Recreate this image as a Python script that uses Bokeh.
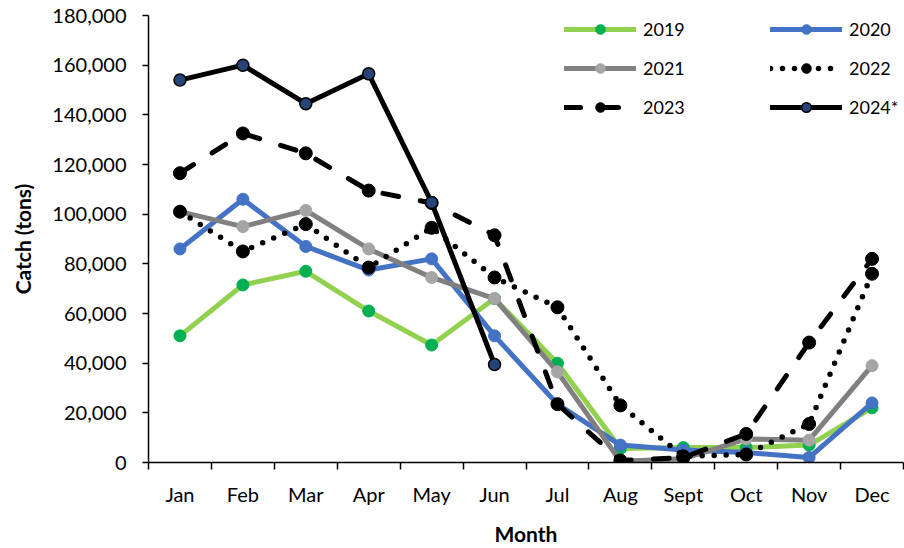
from bokeh.plotting import figure
from bokeh.models import (Range1d, FixedTicker, NumeralTickFormatter, Legend, LegendItem)
from bokeh.embed import file_html
from bokeh.resources import INLINE

months = ["Jan", "Feb", "Mar", "Apr", "May", "Jun", "Jul", "Aug", "Sept", "Oct", "Nov", "Dec"]
y2019 = [51000, 71500, 77000, 61000, 47300, 66000, 40000, 5600, 6000, 6000, 7000, 22000]
y2020 = [86000, 106000, 87000, 77500, 82000, 51000, 23500, 7000, 5000, 4000, 2000, 24000]
y2021 = [101000, 95000, 101500, 86000, 74500, 66000, 36500, 500, 1500, 9500, 9000, 39000]
y2022 = [101000, 85000, 96000, 78500, 94500, 74500, 62500, 23000, 2500, 3200, 15500, 76000]
y2023 = [116500, 132500, 124500, 109500, 104500, 91500, 23500, 800, 2000, 11500, 48300, 82000]
y2024 = [154000, 160000, 144500, 156500, 104700, 39500]
series_names = ["2019", "2020", "2021", "2022", "2023", "2024*"]
y_ticks = [0, 20000, 40000, 60000, 80000, 100000, 120000, 140000, 160000, 180000]

FONT = "Lato"

p = figure(width=904, height=548, output_backend="svg", toolbar_location=None,
           x_range=Range1d(0.5, 12.5), y_range=Range1d(0, 180000),
           min_border_left=148, min_border_right=1, min_border_top=15, min_border_bottom=86)
p.outline_line_color = None
p.xgrid.visible = False
p.ygrid.visible = False
p.background_fill_color = "white"

xs_all = list(range(1, 13))

styles = [
    dict(data=y2019, line_color="#92D050", line_dash="solid", marker_fill="#00B050", marker_line="#00B050"),
    dict(data=y2020, line_color="#4472C4", line_dash="solid", marker_fill="#4472C4", marker_line="#4472C4"),
    dict(data=y2021, line_color="#808080", line_dash="solid", marker_fill="#A5A5A5", marker_line="#A5A5A5"),
    dict(data=y2022, line_color="#000000", line_dash="0 12", marker_fill="#000000", marker_line="#000000"),
    dict(data=y2023, line_color="#000000", line_dash="16 22", marker_fill="#000000", marker_line="#000000"),
    dict(data=y2024, line_color="#000000", line_dash="solid", marker_fill="#264478", marker_line="#000000"),
]

items = {}
for name, st in zip(series_names, styles):
    ys = st["data"]
    xs = xs_all[:len(ys)]
    lw = 5.5 if name == "2022" else 5
    ln = p.line(xs, ys, line_color=st["line_color"], line_width=lw, line_dash=st["line_dash"],
                line_cap="round", line_join="round")
    mk_size = 13 if name in ("2022", "2023") else 12
    sc = p.scatter(xs, ys, marker="circle", size=mk_size, fill_color=st["marker_fill"],
                   line_color=st["marker_line"], line_width=1.5 if name == "2024*" else 1)
    items[name] = LegendItem(label=name, renderers=[ln, sc])

# column-major fill so rows read 2019|2020, 2021|2022, 2023|2024*
order = ["2019", "2021", "2023", "2020", "2022", "2024*"]
legend = Legend(items=[items[n] for n in order], ncols=2, location=(416, 343), orientation="vertical")
legend.background_fill_alpha = 0
legend.border_line_color = None
legend.padding = 0
legend.margin = 0
legend.spacing = 15
legend.glyph_width = 72
legend.glyph_height = 24
legend.label_height = 24
legend.label_width = 112
legend.label_standoff = 7
legend.label_text_font = FONT
legend.label_text_font_size = "18px"
legend.label_text_color = "#000000"
legend.label_text_baseline = "middle"
p.add_layout(legend, "center")

# y axis
ya = p.yaxis[0]
ya.ticker = FixedTicker(ticks=y_ticks)
ya.formatter = NumeralTickFormatter(format="0,0")
ya.axis_line_color = "#000000"
ya.axis_line_width = 1.5
ya.major_tick_line_color = "#000000"
ya.major_tick_line_width = 1.5
ya.major_tick_out = 6
ya.major_tick_in = 0
ya.minor_tick_line_color = None
ya.major_label_standoff = 16
ya.major_label_text_font = FONT
ya.major_label_text_font_size = "20px"
ya.major_label_text_color = "#000000"
ya.axis_label = "Catch (tons)"
ya.axis_label_text_font = FONT
ya.axis_label_text_font_style = "bold"
ya.axis_label_text_font_size = "21px"
ya.axis_label_text_color = "#000000"
ya.axis_label_standoff = 14

# x axis
xa = p.xaxis[0]
xa.ticker = FixedTicker(ticks=xs_all, minor_ticks=[i + 0.5 for i in range(0, 13)])
xa.major_label_overrides = {i + 1: m for i, m in enumerate(months)}
xa.axis_line_color = "#000000"
xa.axis_line_width = 1.5
xa.major_tick_line_color = None
xa.major_tick_out = 7
xa.major_tick_in = 0
xa.minor_tick_line_color = "#000000"
xa.minor_tick_line_width = 1.5
xa.minor_tick_out = 7
xa.minor_tick_in = 0
xa.major_label_standoff = 12
xa.major_label_text_font = FONT
xa.major_label_text_font_size = "20px"
xa.major_label_text_color = "#000000"
xa.axis_label = "Month"
xa.axis_label_text_font = FONT
xa.axis_label_text_font_style = "bold"
xa.axis_label_text_font_size = "21px"
xa.axis_label_text_color = "#000000"
xa.axis_label_standoff = 12

open("out.html", "w").write(file_html(p, INLINE))
